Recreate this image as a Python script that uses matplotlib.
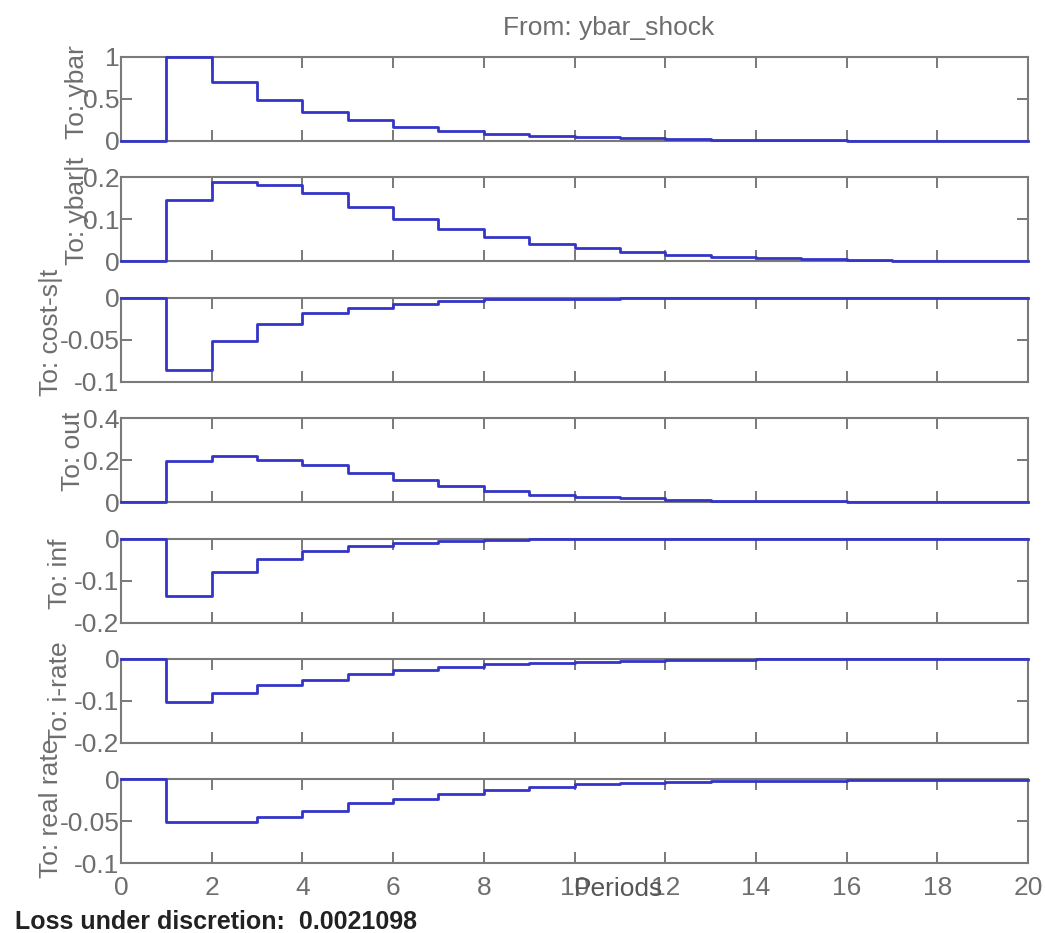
import numpy as np
import matplotlib
matplotlib.use("Agg")
import matplotlib.pyplot as plt

plt.rcParams["font.family"] = ["Liberation Sans", "DejaVu Sans"]

# ─────────────────────────────────────────────────────────────
# Impulse responses to ybar_shock (periods 0..20)
# ─────────────────────────────────────────────────────────────
periods = list(range(21))

ybar = [0, 1.0, 0.70, 0.49, 0.345, 0.245, 0.17, 0.12, 0.085, 0.06, 0.042,
        0.03, 0.021, 0.015, 0.01, 0.007, 0.005, 0.004, 0.003, 0.002, 0.001]
ybar_t = [0, 0.145, 0.189, 0.182, 0.162, 0.130, 0.102, 0.077, 0.057, 0.041, 0.031,
          0.022, 0.015, 0.010, 0.007, 0.005, 0.003, 0.002, 0.001, 0.001, 0.0]
cost_s = [0, -0.086, -0.052, -0.031, -0.018, -0.012, -0.007, -0.004, -0.002, -0.001, -0.001,
          0, 0, 0, 0, 0, 0, 0, 0, 0, 0]
out = [0, 0.198, 0.221, 0.202, 0.179, 0.138, 0.104, 0.075, 0.052, 0.036, 0.025,
       0.018, 0.012, 0.008, 0.005, 0.004, 0.003, 0.002, 0.001, 0.001, 0.0]
inf = [0, -0.137, -0.080, -0.048, -0.029, -0.017, -0.010, -0.006, -0.003, -0.002, -0.001,
       -0.001, 0, 0, 0, 0, 0, 0, 0, 0, 0]
i_rate = [0, -0.103, -0.082, -0.061, -0.050, -0.036, -0.026, -0.019, -0.013, -0.009, -0.006,
          -0.004, -0.003, -0.002, -0.001, -0.001, -0.001, 0, 0, 0, 0]
real_rate = [0, -0.051, -0.051, -0.045, -0.038, -0.028, -0.023, -0.017, -0.0125, -0.009, -0.006,
             -0.004, -0.003, -0.002, -0.002, -0.002, -0.0005, -0.0005, -0.0005, -0.0005, -0.0005]

labels = ["To: ybar", "To: ybar|t", "To: cost-s|t", "To: out",
          "To: inf", "To: i-rate", "To: real rate"]
series = [ybar, ybar_t, cost_s, out, inf, i_rate, real_rate]
ylims = [(0, 1), (0, 0.2), (-0.1, 0), (0, 0.4), (-0.2, 0), (-0.2, 0), (-0.1, 0)]
yticks = [[0, 0.5, 1], [0, 0.1, 0.2], [-0.1, -0.05, 0], [0, 0.2, 0.4],
          [-0.2, -0.1, 0], [-0.2, -0.1, 0], [-0.1, -0.05, 0]]
ytick_labels = [["0", "0.5", "1"], ["0", "0.1", "0.2"], ["-0.1", "-0.05", "0"],
                ["0", "0.2", "0.4"], ["-0.2", "-0.1", "0"], ["-0.2", "-0.1", "0"],
                ["-0.1", "-0.05", "0"]]
xticks = list(range(0, 21, 2))

title = "From: ybar_shock"
xlabel = "Periods"
loss_text = "Loss under discretion:  0.0021098"

# label positions (axes coords) – MATLAB style, overlapping tick labels
label_x = [-0.049, -0.049, -0.077, -0.053, -0.067, -0.067, -0.077]
label_y = [0.58, 0.60, 0.59, 0.61, 0.58, 0.60, 0.66]

W, H = 1045, 933
GRAY = "#6e6e6e"
LINE = "#3434c8"

fig = plt.figure(figsize=(W / 100, H / 100), dpi=100)

left = 121 / W
width = (1028 - 121) / W
axes = []
for i in range(7):
    top_px = 57 + 120.4 * i
    ax = fig.add_axes([left, 1 - (top_px + 84) / H, width, 84 / H])
    axes.append(ax)

    ax.step(periods, series[i], where="post", color=LINE, linewidth=2,
            clip_on=False, zorder=5)
    ax.set_xlim(0, 20)
    ax.set_ylim(*ylims[i])
    ax.set_yticks(yticks[i])
    ax.set_yticklabels(ytick_labels[i])
    ax.set_xticks(xticks)
    if i < 6:
        ax.set_xticklabels([])
    ax.tick_params(direction="in", length=8, width=1.3, color=GRAY,
                   labelcolor=GRAY, labelsize=19, pad=1,
                   top=True, right=True)
    ax.tick_params(axis="x", pad=9)
    for sp in ax.spines.values():
        sp.set_color("#7a7a7a")
        sp.set_linewidth(1.5)
    ax.set_ylabel(labels[i], fontsize=19, color=GRAY,
                  ha="center", va="center", rotation_mode="default")
    ax.yaxis.set_label_coords(label_x[i], label_y[i])

# x label overlaps tick labels like the original
axes[-1].text((618 - 121) / (1028 - 121), -(887 - 861) / 84, xlabel,
              transform=axes[-1].transAxes, ha="center", va="center",
              fontsize=19, color="#555555")

fig.text(609 / W, 1 - 28 / H, title, ha="center", va="center",
         fontsize=19, color=GRAY)
fig.text(15 / W, 1 - 922 / H, loss_text, ha="left", va="center",
         fontsize=18, fontweight="bold", color="#222222")

plt.savefig("out.png", dpi=100)
plt.close(fig)
